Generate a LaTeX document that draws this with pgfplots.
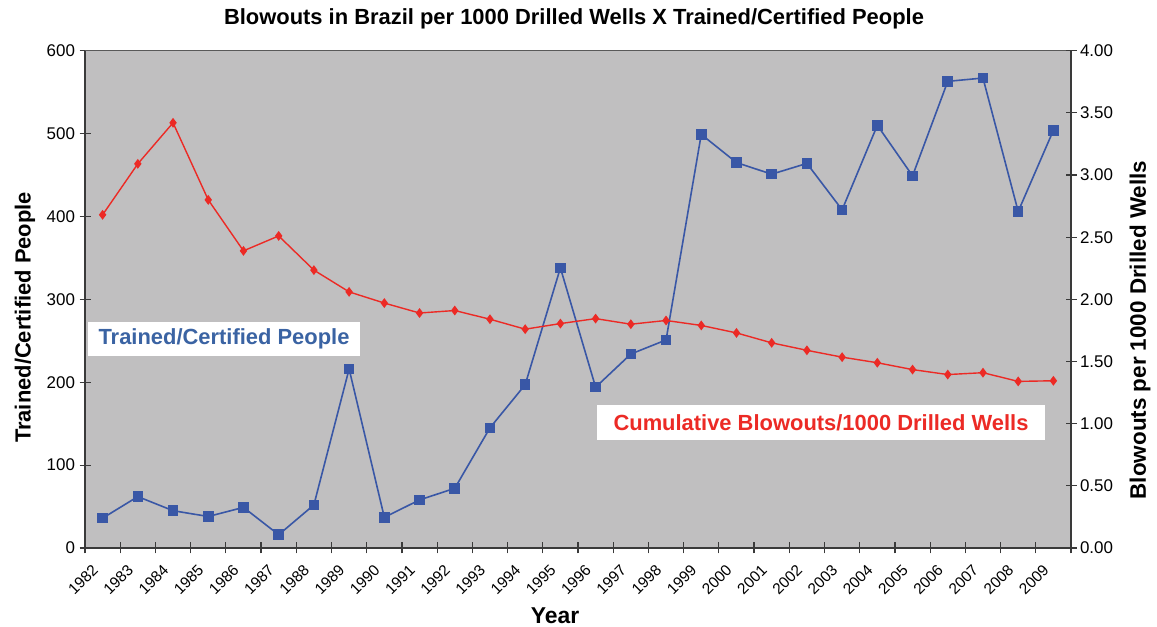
\documentclass[border=0pt]{standalone}
\usepackage{pgfplots}
\pgfplotsset{compat=1.18}
\usepackage{fontspec}
\setmainfont{Liberation Sans}
\definecolor{bgc}{HTML}{C0BFC0}
\definecolor{bluec}{HTML}{3957A6}
\definecolor{redc}{HTML}{EC2A25}
\definecolor{bluet}{HTML}{3A63A3}
\definecolor{axc}{HTML}{3A3A3A}
\pgfplotstableread{
x y
0 36
1 62
2 45
3 38
4 49
5 16
6 52
7 216
8 37
9 58
10 72
11 145
12 197
13 338
14 194
15 234
16 251
17 499
18 465
19 451
20 464
21 408
22 510
23 449
24 563
25 567
26 406
27 504
}\people
\pgfplotstableread{
x y
0 2.68
1 3.09
2 3.42
3 2.80
4 2.39
5 2.51
6 2.235
7 2.06
8 1.97
9 1.89
10 1.91
11 1.84
12 1.76
13 1.805
14 1.845
15 1.80
16 1.83
17 1.79
18 1.73
19 1.65
20 1.59
21 1.535
22 1.49
23 1.435
24 1.395
25 1.41
26 1.34
27 1.345
}\blowouts
\begin{document}
\begin{tikzpicture}[x=1bp,y=1bp]
\useasboundingbox (0,0) rectangle (1157,627);
\begin{axis}[at={(85bp,79bp)}, anchor=south west, scale only axis,
  width=986bp, height=497.3bp,
  xmin=-0.5, xmax=27.5, ymin=0, ymax=600,
  axis x line*=bottom, axis y line*=left,
  axis line style={axc, line width=1.6bp},
  axis background/.style={fill=bgc},
  tick align=center, major tick length=11bp,
  tick style={axc, line width=1.2bp},
  ytick={0,100,...,600},
  yticklabel style={font=\fontsize{17}{17}\selectfont, xshift=-1bp},
  /pgf/number format/assume math mode=true,
  xtick={-0.5,0.5,...,27.5}, xticklabels={},
  extra x ticks={0,...,27},
  extra x tick labels={1982,1983,1984,1985,1986,1987,1988,1989,1990,1991,1992,1993,1994,1995,1996,1997,1998,1999,2000,2001,2002,2003,2004,2005,2006,2007,2008,2009},
  extra x tick style={major tick length=0pt, xticklabel style={font=\fontsize{15.5}{15.5}\selectfont, rotate=45, anchor=north east, inner sep=1bp, xshift=-18bp, yshift=-2bp}},
  clip=false,
]
\addplot[bluec, line width=1.6bp, mark=square*, mark size=4.5bp, mark options={solid}] table[x=x,y=y] {\people};
\draw[gray!70!black, line width=0.8bp] (rel axis cs:0,1) -- (rel axis cs:1,1);
\end{axis}
\begin{axis}[at={(85bp,79bp)}, anchor=south west, scale only axis,
  width=986bp, height=497.3bp,
  xmin=-0.5, xmax=27.5, ymin=0, ymax=4,
  axis x line=none, axis y line*=right,
  axis line style={axc, line width=1.6bp},
  tick align=center, major tick length=11bp,
  tick style={axc, line width=1.2bp},
  ytick={0,0.5,...,4},
  yticklabel style={font=\fontsize{17}{17}\selectfont, /pgf/number format/.cd, fixed, fixed zerofill, precision=2},
  /pgf/number format/assume math mode=true,
  clip=false,
]
\addplot[redc, line width=1.4bp, mark=diamond*, mark size=3.8bp, mark options={solid}] table[x=x,y=y] {\blowouts};
\end{axis}
\node[font=\bfseries\fontsize{22}{24}\selectfont] at (574,608) {Blowouts in Brazil per 1000 Drilled Wells X Trained/Certified People};
\node[font=\bfseries\fontsize{22}{24}\selectfont, rotate=90] at (25,309.5) {Trained/Certified People};
\node[font=\bfseries\fontsize{22.5}{24}\selectfont, rotate=90] at (1140,297) {Blowouts per 1000 Drilled Wells};
\node[font=\bfseries\fontsize{23}{24}\selectfont, anchor=base, inner sep=0pt] at (555,3) {Year};
\node[fill=white, minimum width=272bp, minimum height=34bp, inner sep=0pt, text=bluet, font=\bfseries\fontsize{22}{24}\selectfont] at (224,288) {Trained/Certified People};
\node[fill=white, minimum width=448bp, minimum height=35bp, inner sep=0pt, text=redc, font=\bfseries\fontsize{22}{24}\selectfont] at (821,204.5) {Cumulative Blowouts/1000 Drilled Wells};
\end{tikzpicture}
\end{document}
